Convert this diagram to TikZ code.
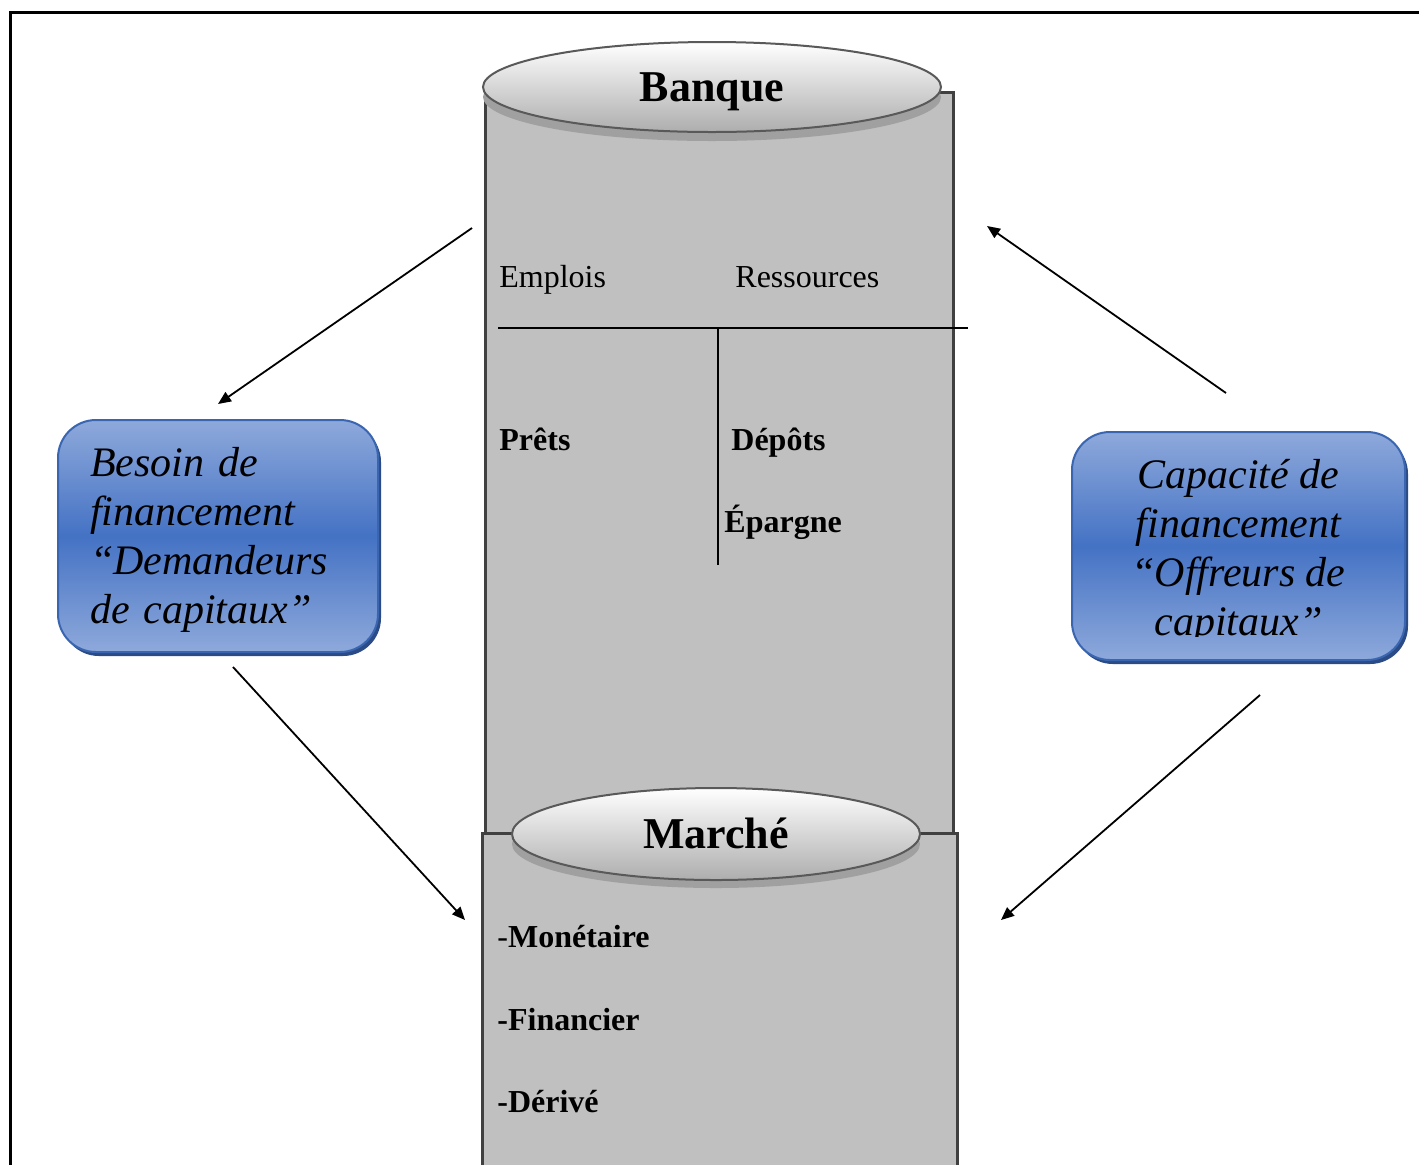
\documentclass[tikz,border=0pt]{standalone}
\usepackage{fontspec}
\setmainfont{Liberation Serif}
\usetikzlibrary{positioning,arrows.meta,shapes.geometric,shadows}
\definecolor{tankgray}{HTML}{C0C0C0}
\definecolor{tankline}{HTML}{404040}
\definecolor{lidshade}{HTML}{A0A0A0}
\definecolor{boxlight}{HTML}{8EA9DB}
\definecolor{boxmid}{HTML}{4472C4}
\definecolor{boxline}{HTML}{3A65B0}
\definecolor{boxshadow}{HTML}{2A4B85}

\begin{document}
\begin{tikzpicture}[
  x=0.5pt, y=-0.5pt,
  tank/.style={draw=tankline, line width=1.5pt, fill=tankgray},
  lid/.style={ellipse, draw=black!65, line width=1pt, inner sep=0pt,
              top color=white, bottom color=black!32,
              text height=15pt, text depth=1pt,
              font=\fontsize{22}{26}\selectfont\bfseries},
  lidshadow/.style={ellipse, fill=lidshade, inner sep=0pt},
  agent/.style={rectangle, rounded corners=19pt, draw=boxline, line width=1pt,
                top color=boxlight, bottom color=boxlight, middle color=boxmid,
                drop shadow={shadow xshift=1.5pt, shadow yshift=-2pt,
                             fill=boxshadow, opacity=1},
                minimum width=160pt, minimum height=116pt, inner sep=0pt},
  agtext/.style={font=\fontsize{21}{24.5}\selectfont\itshape, inner sep=0pt},
  acct/.style={anchor=base west, inner sep=0pt, font=\fontsize{16}{19}\selectfont},
  item/.style={anchor=base west, inner sep=0pt,
               font=\fontsize{16}{19}\selectfont\bfseries},
  flow/.style={-{Triangle[length=6.5pt,width=5.5pt]}, line width=0.9pt}
]
  \useasboundingbox (0,0) rectangle (1419,1164);
  \clip (0,0) rectangle (1419,1164);
  \fill[white] (0,0) rectangle (1419,1164);

  % Outer frame
  \draw[line width=1.5pt] (10,12) rectangle (1450,1200);

  % Bank column
  \draw[tank] (485,92) rectangle (953,833);
  \node[lidshadow, minimum width=229pt, minimum height=44pt] (bqshadow) at (712,97) {};
  \node[lid, minimum width=229pt, minimum height=45pt] (banque) at (712,87) {Banque};

  % T-account
  \draw[line width=0.8pt] (498,328) -- (968,328);
  \draw[line width=0.8pt] (718,328) -- (718,565);
  \node[acct] (emplois) at (499,287) {Emplois};
  \node[acct] (ressources) at (735,287) {Ressources};
  \node[item] (prets) at (499,450) {Prêts};
  \node[item] (depots) at (731,450) {Dépôts};
  \node[item] (epargne) at (724,532) {Épargne};

  % Market column
  \draw[tank] (482,833) rectangle (957,1200);
  \node[lidshadow, minimum width=204pt, minimum height=44pt] (mkshadow) at (716,844) {};
  \node[lid, minimum width=204pt, minimum height=46pt] (marche) at (716,834) {Marché};
  \node[item] (monetaire) at (497,947) {{\mdseries -}Monétaire};
  \node[item] (financier) at (497,1030) {-Financier};
  \node[item] (derive) at (497,1112) {-Dérivé};

  % Agents
  \node[agent] (need) at (218,536) {};
  \node[agtext, align=left, text width=128pt] (needtxt) at ([yshift=-2pt]need.center)
    {Besoin de\\ financement\\ “Demandeurs\\ de capitaux”};
  \node[agent, minimum width=166.5pt, minimum height=114pt] (offer) at (1238.5,546) {};
  \begin{scope}
    \clip (1075,436) rectangle (1402,636);
    \node[agtext, align=center] (offertxt) at ([yshift=-3pt]offer.center)
      {Capacité de\\ financement\\ “Offreurs de\\ capitaux”};
  \end{scope}

  % Flows
  \coordinate (bq-l) at (472,228);
  \coordinate (need-t) at (218,404);
  \coordinate (offer-t) at (1226,393);
  \coordinate (bq-r) at (987,226);
  \coordinate (need-b) at (233,667);
  \coordinate (mk-l) at (465,920);
  \coordinate (offer-b) at (1260,695);
  \coordinate (mk-r) at (1001,920);
  \draw[flow] (bq-l) -- (need-t);
  \draw[flow] (offer-t) -- (bq-r);
  \draw[flow] (need-b) -- (mk-l);
  \draw[flow] (offer-b) -- (mk-r);
\end{tikzpicture}
\end{document}
